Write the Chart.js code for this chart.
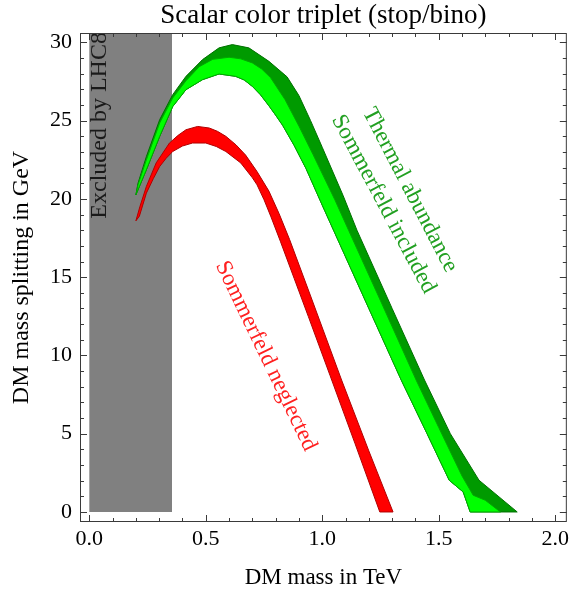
<!DOCTYPE html>
<html><head><meta charset="utf-8">
<script src="https://cdn.jsdelivr.net/npm/chart.js@4.4.0/dist/chart.umd.min.js"></script>
<style>html,body{margin:0;padding:0;background:#fff;overflow:hidden}#wrap{width:573px;height:597px;position:relative}</style>
</head><body><div id="wrap"><canvas id="c" width="573" height="597"></canvas></div>
<script>
// ---- text ----
const titleText = 'Scalar color triplet (stop/bino)';
const xTitleText = 'DM mass in TeV';
const yTitleText = 'DM mass splitting in GeV';
const xTickValues = [0.0, 0.5, 1.0, 1.5, 2.0];
const yTickValues = [0, 5, 10, 15, 20, 25, 30];

// ---- excluded region (x in TeV, y in GeV) ----
const excludedBox = [[0, 0], [0.355, 0], [0.355, 30.75], [0, 30.75]];

// ---- red band: Sommerfeld neglected ----
const redUpper = [[0.200,18.6],[0.217,19.5],[0.245,20.8],[0.287,22.3],[0.344,23.57],[0.380,24.05],[0.415,24.42],[0.465,24.63],[0.515,24.53],[0.550,24.32],[0.586,24.0],[0.630,23.45],[0.671,22.8],[0.720,21.75],[0.771,20.5],[0.815,19.05],[0.860,17.4],[0.950,13.8],[1.083,8.43],[1.200,3.9],[1.304,0]];
const redLower = [[0.200,18.6],[0.215,18.9],[0.245,20.37],[0.275,21.3],[0.302,22.07],[0.330,22.6],[0.358,23.03],[0.400,23.38],[0.443,23.57],[0.500,23.57],[0.545,23.35],[0.586,23.03],[0.650,22.3],[0.700,21.35],[0.720,20.9],[0.750,19.95],[0.780,18.85],[0.820,17.3],[0.880,14.9],[0.940,12.5],[1.034,8.7],[1.140,4.4],[1.247,0]];

// ---- green bands: thermal abundance, Sommerfeld included ----
const greenLower = [[0.200,20.26],[0.245,21.86],[0.302,23.99],[0.358,25.9],[0.415,26.98],[0.486,27.62],[0.557,27.98],[0.628,27.83],[0.665,27.6],[0.700,27.19],[0.735,26.65],[0.771,25.95],[0.800,25.35],[0.830,24.7],[0.880,23.4],[0.930,21.95],[1.000,19.6],[1.100,16.3],[1.200,13.0],[1.339,8.43],[1.450,5.0],[1.545,2.03],[1.605,1.28],[1.635,0]];
const lightUpper = [[0.200,20.26],[0.209,20.9],[0.245,22.5],[0.302,24.85],[0.358,26.45],[0.415,27.55],[0.472,28.45],[0.530,28.92],[0.600,29.05],[0.650,28.95],[0.700,28.69],[0.740,28.3],[0.778,27.75],[0.840,26.35],[0.900,24.65],[0.960,22.85],[1.054,19.95],[1.113,18.0],[1.250,13.5],[1.403,8.43],[1.500,5.4],[1.600,2.3],[1.648,1.07],[1.700,0.75],[1.765,0]];
const darkUpper = [[0.200,20.26],[0.209,21.0],[0.245,22.71],[0.302,25.06],[0.358,26.66],[0.415,27.83],[0.486,28.9],[0.557,29.65],[0.614,29.86],[0.685,29.65],[0.771,28.79],[0.849,27.8],[0.900,26.6],[0.950,25.0],[1.000,23.3],[1.090,20.2],[1.149,18.0],[1.300,13.0],[1.439,8.43],[1.550,5.0],[1.673,2.03],[1.837,0]];

const toPts = a => a.map(p => ({x: p[0], y: p[1]}));
const shape = (up, low) => toPts(up.concat(low.slice().reverse()));

const SERIF = "'Liberation Serif', 'Times New Roman', serif";

const annotations = [
  {text: 'Excluded by LHC8', x: 0.046, y: 24.7, rot: -90, color: '#1a1a1a', size: 24},
  {text: 'Sommerfeld neglected', x: 0.758, y: 9.96, rot: 64.4, color: '#ff2020', size: 23},
  {text: 'Thermal abundance', x: 1.376, y: 20.57, rot: 62.5, color: '#22a022', size: 23},
  {text: 'Sommerfeld included', x: 1.263, y: 19.67, rot: 62, color: '#22a022', size: 23}
];

const framePlugin = {
  id: 'framePlugin',
  afterDatasetsDraw(chart) {
    const ctx = chart.ctx;
    const xs = chart.scales.x, ys = chart.scales.y;
    annotations.forEach(a => {
      ctx.save();
      ctx.translate(xs.getPixelForValue(a.x), ys.getPixelForValue(a.y));
      ctx.rotate(a.rot * Math.PI / 180);
      ctx.font = a.size + 'px ' + SERIF;
      ctx.fillStyle = a.color;
      ctx.textAlign = 'center';
      ctx.textBaseline = 'middle';
      ctx.fillText(a.text, 0, 0);
      ctx.restore();
    });
    const {left, right, top, bottom} = chart.chartArea;
    ctx.save();
    ctx.strokeStyle = '#3a3a3a';
    ctx.lineWidth = 1;
    ctx.strokeRect(left + 0.5, top + 0.5, right - left - 1, bottom - top - 1);
    ctx.beginPath();
    for (let i = 0; i <= 20; i++) {
      const v = i / 10;
      const isMaj = xTickValues.some(m => Math.abs(m - v) < 1e-9);
      const L = isMaj ? 7 : 4;
      const px = Math.round(xs.getPixelForValue(v)) + 0.5;
      ctx.moveTo(px, bottom); ctx.lineTo(px, bottom - L);
      ctx.moveTo(px, top); ctx.lineTo(px, top + L);
    }
    for (let v = 0; v <= 30; v++) {
      const isMaj = yTickValues.includes(v);
      const L = isMaj ? 7 : 4;
      const py = Math.round(ys.getPixelForValue(v)) + 0.5;
      ctx.moveTo(left, py); ctx.lineTo(left + L, py);
      ctx.moveTo(right, py); ctx.lineTo(right - L, py);
    }
    ctx.stroke();
    ctx.fillStyle = '#000';
    ctx.font = '27px ' + SERIF;
    ctx.textAlign = 'center';
    ctx.textBaseline = 'alphabetic';
    ctx.fillText(titleText, (left + right) / 2, 23);
    ctx.restore();
  }
};

const band = (label, data, fillC, edgeC) => ({label, data, fill: 'shape', backgroundColor: fillC, borderColor: edgeC, borderWidth: 1, pointRadius: 0, tension: 0});

new Chart(document.getElementById('c'), {
  type: 'line',
  data: {
    datasets: [
      band('Sommerfeld neglected', shape(redUpper, redLower), '#ff0000', '#b00000'),
      band('Thermal abundance (light)', shape(lightUpper, greenLower), '#00ff00', '#00a800'),
      band('Thermal abundance (dark)', shape(darkUpper, greenLower), '#009a00', '#007000'),
      {label: 'Excluded by LHC8', data: toPts(excludedBox), fill: 'shape', backgroundColor: '#808080', borderColor: 'rgba(0,0,0,0)', borderWidth: 0, pointRadius: 0, tension: 0}
    ]
  },
  options: {
    responsive: false,
    animation: false,
    devicePixelRatio: 1,
    layout: {padding: {top: 33, right: 3, left: 0, bottom: 0}},
    plugins: {legend: {display: false}, tooltip: {enabled: false}, title: {display: false}},
    scales: {
      x: {
        type: 'linear', min: -0.04, max: 2.05,
        grid: {display: false, drawTicks: false},
        border: {display: false},
        afterBuildTicks: s => { s.ticks = xTickValues.map(v => ({value: v})); },
        afterFit: s => { s.height = 75; },
        ticks: {color: '#000', font: {family: SERIF, size: 22}, padding: 4, maxRotation: 0, autoSkip: false, callback: v => Number(v).toFixed(1)},
        title: {display: true, text: xTitleText, color: '#000', font: {family: SERIF, size: 23}, padding: {top: 0, bottom: 5}}
      },
      y: {
        type: 'linear', min: -0.64, max: 30.6,
        grid: {display: false, drawTicks: false},
        border: {display: false},
        afterBuildTicks: s => { s.ticks = yTickValues.map(v => ({value: v})); },
        afterFit: s => { s.width = 80; },
        ticks: {color: '#000', font: {family: SERIF, size: 22}, padding: 8, autoSkip: false, callback: v => String(v)},
        title: {display: true, text: yTitleText, color: '#000', font: {family: SERIF, size: 24}, padding: {top: 7, bottom: 0}}
      }
    }
  },
  plugins: [framePlugin]
});
</script>
</body></html>
